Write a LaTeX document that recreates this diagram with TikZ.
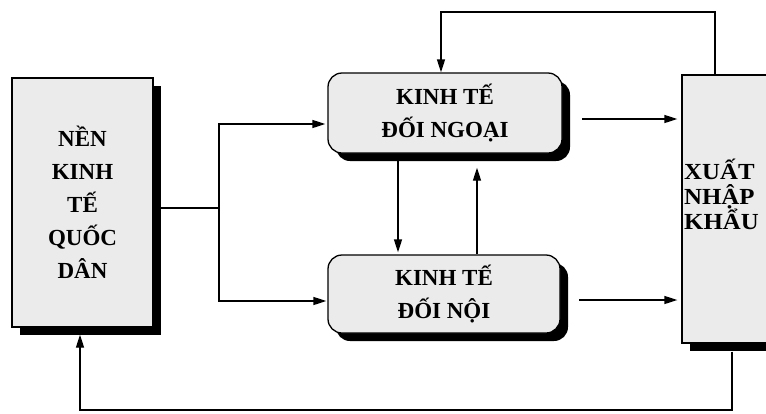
\documentclass[tikz,border=0pt]{standalone}
\usepackage{fontspec}
\setmainfont{Liberation Serif}
\usetikzlibrary{arrows.meta,shadows,calc}
\begin{document}
\begin{tikzpicture}[x=1pt,y=-1pt,
  box/.style={draw=black,line width=1.3pt,fill=black!8,
    drop shadow={shadow xshift=8pt,shadow yshift=-8pt,fill=black,opacity=1},
    inner sep=0pt,align=center,font=\fontsize{23}{33}\selectfont\bfseries},
  rbox/.style={box,rounded corners=14pt},
  conn/.style={line width=1.3pt},
  arr/.style={conn,-{Triangle[length=13pt,width=8pt]}}
]
\useasboundingbox (0,0) rectangle (766,413);
% boxes
\node[box,minimum width=141pt,minimum height=249pt] (nen) at (82.5,202.5)
  {NỀN\\KINH\\TẾ\\QUỐC\\DÂN};
\node[rbox,minimum width=234pt,minimum height=80pt] (ngoai) at (445,113)
  {KINH TẾ\\ĐỐI NGOẠI};
\node[rbox,minimum width=232pt,minimum height=78pt] (noi) at (444,294)
  {KINH TẾ\\ĐỐI NỘI};
\node[box,minimum width=120pt,minimum height=268pt] (xnk) at (742,209) {};
\node[anchor=west,align=left,inner sep=0pt,xscale=1.08,font=\fontsize{23}{25}\selectfont\bfseries] (xnkt) at (684,194)
  {XUẤT\\NHẬP\\KHẨU};
% coordinates
\coordinate (split) at (219,208);
\coordinate (ya) at (0,124);
\coordinate (yb) at (0,301);
\coordinate (s1) at (582,119);
\coordinate (s2) at (579,300);
\coordinate (d1) at (398,160);
\coordinate (u1) at (477,255);
\coordinate (top) at (0,12);
\coordinate (bot) at (0,410);
\coordinate (xa) at (715,0);
\coordinate (xb) at (732,0);
\coordinate (xc) at (441,0);
\coordinate (xd) at (80,0);
% connectors
\draw[conn] (split -| nen.east) -- (split);
\draw[arr] (split) |- ([xshift=-2pt]ngoai.west |- ya);
\draw[arr] (split) |- ([xshift=-1pt]noi.west |- yb);
\draw[arr] (s1) -- ([xshift=-4pt]s1 -| xnk.west);
\draw[arr] (s2) -- ([xshift=-4pt]s2 -| xnk.west);
\draw[arr] (d1) -- ([yshift=2pt]d1 |- noi.north);
\draw[arr] (u1 |- noi.north) -- ([yshift=-14pt]u1 |- ngoai.south);
\draw[arr] (xa |- xnk.north) -- (xa |- top) -| (xc |- ngoai.north);
\draw[arr] ([yshift=-8pt]xb |- xnk.south) -- (xb |- bot) -| ([yshift=-7pt]xd |- nen.south);
\end{tikzpicture}
\end{document}
